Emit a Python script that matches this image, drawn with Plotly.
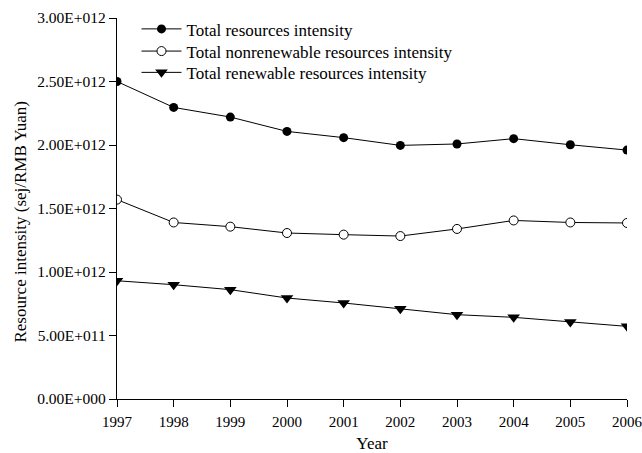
import plotly.graph_objects as go

years = [1997, 1998, 1999, 2000, 2001, 2002, 2003, 2004, 2005, 2006]
total = [2.50e12, 2.296e12, 2.22e12, 2.107e12, 2.058e12, 1.997e12, 2.008e12, 2.05e12, 2.002e12, 1.96e12]
nonrenewable = [1.57e12, 1.39e12, 1.357e12, 1.307e12, 1.294e12, 1.283e12, 1.339e12, 1.406e12, 1.39e12, 1.386e12]
renewable = [0.931e12, 0.90e12, 0.861e12, 0.795e12, 0.756e12, 0.711e12, 0.664e12, 0.643e12, 0.606e12, 0.572e12]

y_ticks = [0, 0.5e12, 1.0e12, 1.5e12, 2.0e12, 2.5e12, 3.0e12]
y_ticktext = ["0.00E+000", "5.00E+011", "1.00E+012", "1.50E+012", "2.00E+012", "2.50E+012", "3.00E+012"]

names = ["Total resources intensity", "Total nonrenewable resources intensity", "Total renewable resources intensity"]
y_title = "Resource intensity (sej/RMB Yuan)"
x_title = "Year"

FONT = "Liberation Serif, Times New Roman, serif"

fig = go.Figure()
fig.add_trace(go.Scatter(x=years, y=total, name=names[0], mode="lines+markers",
                         line=dict(color="black", width=1), legend="legend",
                         marker=dict(symbol="circle", size=9, color="black")))
fig.add_trace(go.Scatter(x=years, y=nonrenewable, name=names[1], mode="lines+markers",
                         line=dict(color="black", width=1), legend="legend2",
                         marker=dict(symbol="circle", size=9, color="white",
                                     line=dict(color="black", width=1))))
fig.add_trace(go.Scatter(x=years, y=renewable, name=names[2], mode="lines+markers",
                         line=dict(color="black", width=1), legend="legend3",
                         marker=dict(symbol="triangle-down", size=11, color="black")))

leg_common = dict(xref="container", yref="container", x=0.2126, xanchor="left", yanchor="top",
                  bgcolor="rgba(0,0,0,0)", font=dict(size=17, family=FONT), itemwidth=40)

fig.update_layout(
    width=642, height=453,
    margin=dict(l=117, r=15, t=18, b=54, autoexpand=False),
    paper_bgcolor="white", plot_bgcolor="white",
    font=dict(family=FONT, color="black", size=15),
    showlegend=True,
    legend=dict(y=0.975, **leg_common),
    legend2=dict(y=0.926, **leg_common),
    legend3=dict(y=0.879, **leg_common),
    xaxis=dict(range=[1997, 2006], tickvals=years, showline=True, linecolor="black",
               linewidth=1.3, ticks="outside", ticklen=7, tickcolor="black",
               tickwidth=1.3, showgrid=False, zeroline=False, ticklabelstandoff=2,
               ticklabeloverflow="allow", tickfont=dict(size=15),
               title=dict(text=x_title, font=dict(size=17), standoff=8)),
    yaxis=dict(range=[0, 3e12], tickvals=y_ticks, ticktext=y_ticktext, showline=True,
               linecolor="black", linewidth=1.3, ticks="outside", ticklen=7,
               tickcolor="black", tickwidth=1.3, showgrid=False, zeroline=False,
               tickfont=dict(size=15.5)),
    annotations=[dict(text=y_title, xref="paper", yref="paper", x=-0.19, y=0.466,
                      xanchor="center", yanchor="middle", textangle=-90, showarrow=False,
                      font=dict(size=17, family=FONT))],
)

fig.write_html("out.html", config={"displayModeBar": False},
               post_script="document.body.style.margin='0';")
